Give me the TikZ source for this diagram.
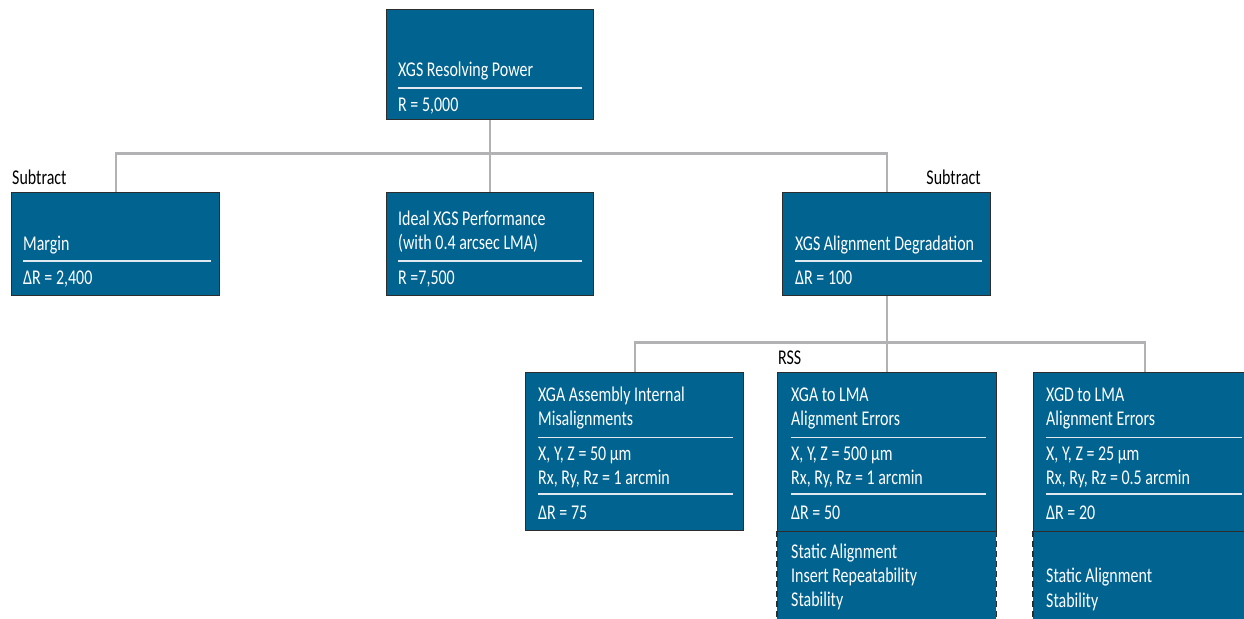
\documentclass[tikz,border=0pt]{standalone}
\usepackage{fontspec}
\setmainfont{Carlito}[FakeStretch=0.76]
\definecolor{boxblue}{RGB}{0,99,144}
\definecolor{boxedge}{RGB}{45,45,45}
\definecolor{conngray}{RGB}{178,178,180}
\definecolor{rulewhite}{RGB}{225,233,240}
\tikzset{
  box/.style={draw=boxedge, fill=boxblue, line width=1.4pt, inner sep=0pt, anchor=north west},
  lowbox/.style={fill=boxblue, inner sep=0pt, anchor=north west},
  dashedge/.style={draw=boxedge, line width=1.8pt, dash pattern=on 6pt off 4pt},
  conn/.style={draw=conngray, line width=2.4pt},
  inrule/.style={draw=rulewhite, line width=1.6pt},
  txt/.style={text=white, inner sep=0pt, anchor=base west, font=\fontsize{21}{24}\selectfont},
  lbl/.style={text=black, inner sep=0pt, anchor=base west, font=\fontsize{21}{24}\selectfont},
}
\begin{document}
\begin{tikzpicture}[x=1pt,y=-1pt]
\clip (0,0) rectangle (1244,618);
\fill[white] (0,0) rectangle (1244,618);
% lower dashed boxes
\node[lowbox, minimum width=219pt, minimum height=100pt] (xgalow) at (777,531) {};
\draw[dashedge] (xgalow.north west) -- (xgalow.south west);
\draw[dashedge] (xgalow.north east) -- (xgalow.south east);
\node[lowbox, minimum width=222pt, minimum height=100pt] (xgdlow) at (1033,531) {};
\draw[dashedge] (xgdlow.north west) -- (xgdlow.south west);
% boxes
\node[box, minimum width=207pt, minimum height=110pt] (top) at (386,9) {};
\node[box, minimum width=208pt, minimum height=103pt] (margin) at (11,192) {};
\node[box, minimum width=207pt, minimum height=103pt] (ideal) at (386,192) {};
\node[box, minimum width=208pt, minimum height=103pt] (align) at (782,192) {};
\node[box, minimum width=218pt, minimum height=158pt] (xga1) at (525,372) {};
\node[box, minimum width=219pt, minimum height=159pt] (xga2) at (777,372) {};
\node[box, minimum width=222pt, minimum height=159pt] (xgd) at (1033,372) {};
% connectors
\draw[conn] (top.south) -- ++(0,33) -| (margin.north);
\draw[conn] (top.south) -- (ideal.north);
\draw[conn] (top.south) -- ++(0,33) -| (align.north);
\draw[conn] (align.south) -- ++(0,46) -| (xga1.north);
\draw[conn] (align.south) -- (align.south |- xga2.north);
\draw[conn] (align.south) -- ++(0,46) -| (xgd.north);
% labels
\node[lbl] (sub1) at (12,184) {Subtract};
\node[lbl, anchor=base east] (sub2) at (981,184) {Subtract};
\node[lbl] (rss) at (778,364) {RSS};
% top box
\node[txt] (t1) at (398,76) {XGS Resolving Power};
\draw[inrule] (398,88) -- (582,88);
\node[txt] (t2) at (398,111) {R = 5,000};
% margin
\node[txt] (m1) at (23,250) {Margin};
\draw[inrule] (23,261) -- (211,261);
\node[txt] (m2) at (23,284) {ΔR = 2,400};
% ideal
\node[txt] (i1) at (398,225) {Ideal XGS Performance};
\node[txt] (i2) at (398,249) {(with 0.4 arcsec LMA)};
\draw[inrule] (398,261) -- (582,261);
\node[txt] (i3) at (398,284) {R =7,500};
% alignment degradation
\node[txt] (a1) at (795,250) {XGS Alignment Degradation};
\draw[inrule] (795,261) -- (982,261);
\node[txt] (a2) at (795,284) {ΔR = 100};
% xga assembly
\node[txt] (x1) at (538,401) {XGA Assembly Internal};
\node[txt] (x2) at (538,425) {Misalignments};
\draw[inrule] (538,437.5) -- (733,437.5);
\node[txt] (x3) at (538,460) {X, Y, Z = 50 µm};
\node[txt] (x4) at (538,484) {Rx, Ry, Rz = 1 arcmin};
\draw[inrule] (538,494) -- (733,494);
\node[txt] (x5) at (538,519) {ΔR = 75};
% xga to lma
\node[txt] (y1) at (791,401) {XGA to LMA};
\node[txt] (y2) at (791,425) {Alignment Errors};
\draw[inrule] (791,437.5) -- (986,437.5);
\node[txt] (y3) at (791,460) {X, Y, Z = 500 µm};
\node[txt] (y4) at (791,484) {Rx, Ry, Rz = 1 arcmin};
\draw[inrule] (791,494) -- (986,494);
\node[txt] (y5) at (791,519) {ΔR = 50};
\node[txt] (y6) at (791,558) {Static Alignment};
\node[txt] (y7) at (791,582) {Insert Repeatability};
\node[txt] (y8) at (791,606) {Stability};
% xgd to lma
\node[txt] (z1) at (1046,401) {XGD to LMA};
\node[txt] (z2) at (1046,425) {Alignment Errors};
\draw[inrule] (1046,437.5) -- (1242,437.5);
\node[txt] (z3) at (1046,460) {X, Y, Z = 25 µm};
\node[txt] (z4) at (1046,484) {Rx, Ry, Rz = 0.5 arcmin};
\draw[inrule] (1046,494) -- (1242,494);
\node[txt] (z5) at (1046,519) {ΔR = 20};
\node[txt] (z6) at (1046,582) {Static Alignment};
\node[txt] (z7) at (1046,607) {Stability};
\end{tikzpicture}
\end{document}
